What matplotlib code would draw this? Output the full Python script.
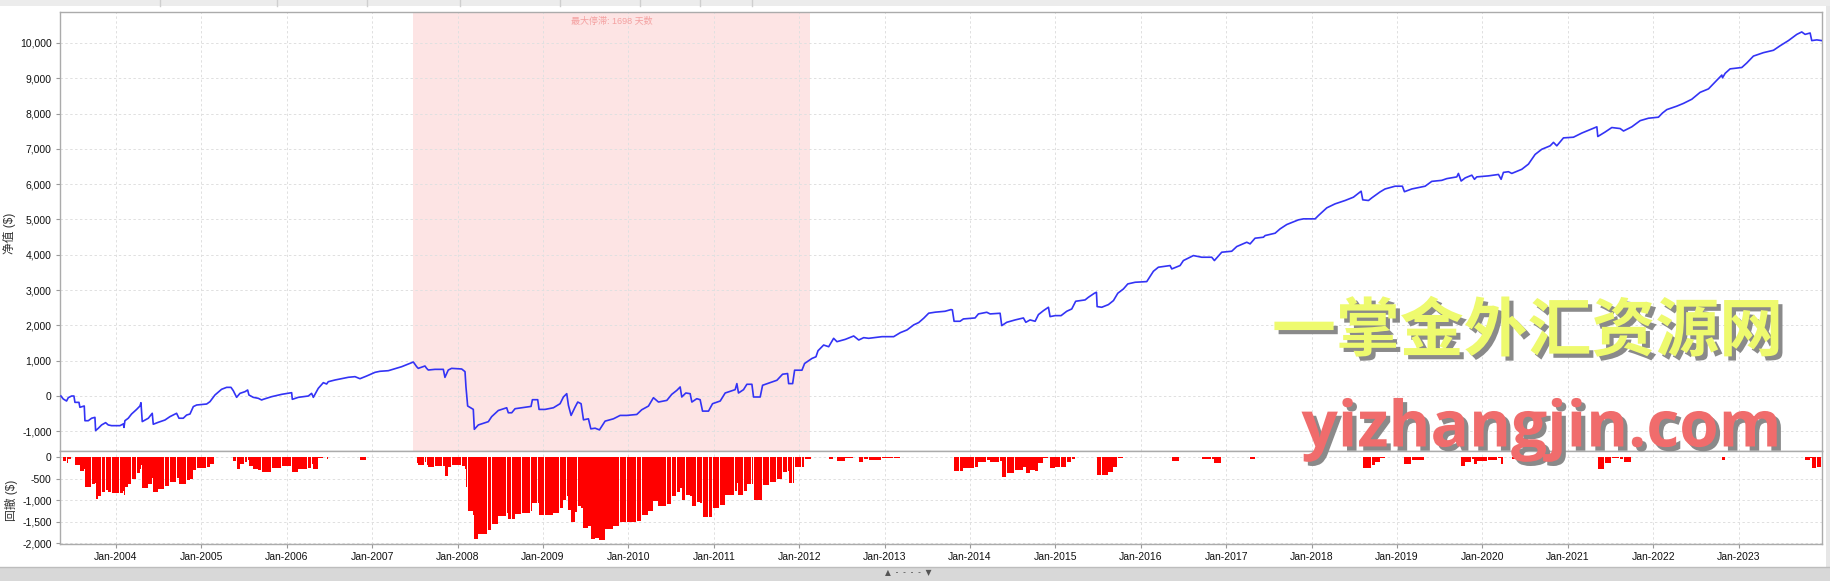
import numpy as np
import matplotlib
matplotlib.use("Agg")
import matplotlib.pyplot as plt
import matplotlib.patheffects as pe
from matplotlib.ticker import FuncFormatter, FixedLocator
from matplotlib.patches import Rectangle

plt.rcParams['font.family'] = ['Liberation Sans', 'Noto Sans CJK SC', 'DejaVu Sans']

# ---------------- data (decimal year, net value $) ----------------
eq_years = [
    2003.356, 2003.383, 2003.422, 2003.442, 2003.481, 2003.508, 2003.520, 2003.567, 2003.578, 2003.629,
    2003.637, 2003.676, 2003.715, 2003.754, 2003.762, 2003.793, 2003.832, 2003.879, 2003.910, 2003.949,
    2004.047, 2004.086, 2004.094, 2004.105, 2004.144, 2004.183, 2004.242, 2004.281, 2004.293, 2004.308,
    2004.379, 2004.425, 2004.437, 2004.496, 2004.574, 2004.632, 2004.710, 2004.738, 2004.788, 2004.827,
    2004.867, 2004.906, 2004.945, 2005.062, 2005.101, 2005.159, 2005.237, 2005.296, 2005.347, 2005.374,
    2005.413, 2005.452, 2005.511, 2005.542, 2005.557, 2005.608, 2005.667, 2005.706, 2005.725, 2005.823,
    2005.940, 2006.057, 2006.065, 2006.135, 2006.252, 2006.291, 2006.311, 2006.369, 2006.428, 2006.467,
    2006.486, 2006.564, 2006.642, 2006.721, 2006.799, 2006.857, 2006.935, 2007.033, 2007.091, 2007.189,
    2007.345, 2007.482, 2007.521, 2007.540, 2007.618, 2007.638, 2007.657, 2007.735, 2007.833, 2007.852,
    2007.891, 2007.930, 2008.048, 2008.087, 2008.098, 2008.118, 2008.184, 2008.196, 2008.243, 2008.360,
    2008.399,
    2008.477, 2008.575, 2008.594, 2008.634, 2008.673, 2008.751, 2008.860, 2008.876, 2008.938, 2008.954,
    2009.024, 2009.122, 2009.200, 2009.239, 2009.278, 2009.298, 2009.329, 2009.376, 2009.407, 2009.446,
    2009.474, 2009.532, 2009.560, 2009.610, 2009.661, 2009.727, 2009.825, 2009.903, 2009.981, 2010.098,
    2010.156, 2010.235, 2010.293, 2010.352, 2010.450, 2010.508, 2010.567, 2010.606, 2010.625, 2010.672,
    2010.723, 2010.743, 2010.801, 2010.840, 2010.868, 2010.938, 2010.985, 2011.075, 2011.133, 2011.250,
    2011.270, 2011.289, 2011.348, 2011.387, 2011.446, 2011.465, 2011.543, 2011.571, 2011.660, 2011.739,
    2011.805, 2011.864, 2011.876, 2011.923, 2011.946, 2012.032, 2012.063, 2012.149, 2012.196, 2012.220,
    2012.286, 2012.345, 2012.403, 2012.442, 2012.540, 2012.638, 2012.697, 2012.755, 2012.813, 2012.970,
    2013.106, 2013.184, 2013.262, 2013.340, 2013.399, 2013.458, 2013.516, 2013.594,
    2013.707, 2013.777, 2013.793, 2013.813, 2013.883, 2013.922, 2014.059, 2014.098, 2014.196, 2014.235,
    2014.352, 2014.371, 2014.430, 2014.528, 2014.625, 2014.653, 2014.703, 2014.762, 2014.801, 2014.860,
    2014.918, 2014.937, 2014.996, 2015.066, 2015.132, 2015.191, 2015.237, 2015.347, 2015.386, 2015.456,
    2015.480, 2015.488, 2015.542, 2015.620, 2015.679, 2015.730, 2015.796, 2015.847, 2015.933, 2016.069,
    2016.147, 2016.205, 2016.342, 2016.362, 2016.459, 2016.498, 2016.615, 2016.713, 2016.830, 2016.861,
    2016.947, 2017.064, 2017.123, 2017.240, 2017.279, 2017.337, 2017.435, 2017.455, 2017.572, 2017.630,
    2017.708, 2017.845, 2017.904, 2018.040, 2018.079, 2018.177, 2018.274, 2018.391, 2018.489, 2018.579,
    2018.598, 2018.665, 2018.704, 2018.743, 2018.800,
    2018.859, 2018.976, 2019.062, 2019.086, 2019.172, 2019.328, 2019.406, 2019.523, 2019.582, 2019.699,
    2019.718, 2019.750, 2019.797, 2019.875, 2019.906, 2019.933, 2020.070, 2020.187, 2020.218, 2020.245,
    2020.304, 2020.343, 2020.460, 2020.538, 2020.616, 2020.694, 2020.792, 2020.831, 2020.870, 2020.948,
    2021.065, 2021.163, 2021.241, 2021.339, 2021.350, 2021.436, 2021.514, 2021.612, 2021.651, 2021.748,
    2021.846, 2021.943, 2022.060, 2022.107, 2022.158, 2022.275, 2022.353, 2022.451, 2022.548, 2022.646,
    2022.724, 2022.802, 2022.810, 2022.841, 2022.899, 2023.036, 2023.094, 2023.172, 2023.289, 2023.407,
    2023.485, 2023.582, 2023.680, 2023.738, 2023.777, 2023.836, 2023.855, 2023.914, 2023.972,
]
eq_values = [
    0, -85, -142, -47, 0, 0, -180, -180, -320, -283,
    -700, -700, -630, -605, -980, -915, -820, -755, -820, -840,
    -840, -790, -890, -700, -630, -510, -380, -283, -190, -725,
    -630, -490, -800, -745, -680, -585, -490, -630, -630, -540,
    -510, -300, -255, -227, -160, 28, 190, 245, 245, 150,
    -38, 75, 123, 170, 28, -38, -66, -113, -94, -19,
    47, 94, -94, -38, 0, 75, -38, 217, 378, 340,
    405, 453, 490, 530, 548, 490, 566, 670, 700, 717,
    830, 963, 830, 783, 850, 783, 736, 755, 755, 528,
    736, 783, 765, 690, 264, -283, -378, -944, -820, -727,
    -585,
    -410, -333, -475, -475, -360, -333, -295, -105, -105, -380,
    -380, -333, -218, -28, 66, -266, -550, -313, -171, -218,
    -675, -646, -930, -912, -960, -712, -646, -550, -550, -523,
    -390, -285, -48, -171, -124, 48, 160, 256, -28, 85,
    66, -171, -76, -105, -428, -428, -218, -142, 85, 180,
    351, 85, 180, 332, 332, -28, -28, 304, 380, 446,
    617, 636, 351, 351, 731, 731, 921, 1064, 1111, 1282,
    1444, 1396, 1634, 1539, 1605, 1700, 1586, 1653, 1634, 1681,
    1681, 1795, 1871, 2014, 2080, 2204, 2346, 2375,
    2400, 2448, 2438, 2117, 2117, 2183, 2211, 2325, 2372, 2325,
    2344, 1994, 2088, 2155, 2211, 2088, 2155, 2117, 2306, 2419,
    2514, 2249, 2277, 2277, 2400, 2466, 2684, 2722, 2797, 2911,
    2939, 2533, 2514, 2589, 2703, 2911, 3033, 3175, 3222, 3241,
    3534, 3648, 3695, 3600, 3695, 3837, 3978, 3931, 3931, 3837,
    4073, 4101, 4234, 4356, 4309, 4470, 4498, 4545, 4612, 4734,
    4857, 4990, 5018, 5018, 5112, 5330, 5443, 5538, 5632, 5802,
    5557, 5538, 5613, 5680, 5780,
    5865, 5943, 5943, 5787, 5865, 5943, 6080, 6109, 6158, 6207,
    6305, 6090, 6178, 6256, 6139, 6207, 6236, 6276, 6139, 6334,
    6354, 6305, 6422, 6569, 6843, 6989, 7087, 7185, 7087, 7312,
    7331, 7449, 7527, 7625, 7351, 7478, 7605, 7576, 7507, 7625,
    7800, 7869, 7898, 8016, 8113, 8211, 8289, 8407, 8602, 8700,
    8895, 9091, 9013, 9140, 9267, 9306, 9433, 9629, 9726, 9794,
    9922, 10068, 10244, 10313, 10244, 10283, 10068, 10088, 10068,
]

year_ticks = list(range(2004, 2024))
year_labels = ["Jan-%d" % y for y in year_ticks]
upper_yticks = list(range(-1000, 10001, 1000))
lower_yticks = [0, -500, -1000, -1500, -2000]

stagnation_start = 2007.48
stagnation_days = 1698
stagnation_text = "最大停滞: 1698 天数"
ylabel_top = "净值 ($)"
ylabel_bottom = "回撤 ($)"
watermark_cn = "一掌金外汇资源网"
watermark_en = "yizhangjin.com"

# ---------------- figure ----------------
W, H = 1831, 581
fig = plt.figure(figsize=(W / 100, H / 100), dpi=100)
fig.patch.set_facecolor('white')

def fx(x):
    return x / W

def fy(y):
    return 1 - y / H

left, right = 60, 1822
top, mid, bottom = 12, 451, 544
ax1 = fig.add_axes([fx(left), fy(mid), fx(right - left), (mid - top) / H])
ax2 = fig.add_axes([fx(left), fy(bottom), fx(right - left), (bottom - mid) / H], sharex=ax1)

eq_x = np.array(eq_years)
eq_y = np.array(eq_values, dtype=float)
dd = eq_y - np.maximum.accumulate(np.maximum(eq_y, 0))

xmin, xmax = 2003.345, 2023.975
grid_kw = dict(color='#e0e0e0', linestyle=(0, (2.5, 2.5)), linewidth=0.7)
spine_color = '#ababab'

# upper panel
stag_end = stagnation_start + stagnation_days / 365.25
ax1.axvspan(stagnation_start, stag_end, color='#fde4e4', zorder=0, lw=0)
ax1.plot(eq_x, eq_y, color='#3333f5', lw=1.2, zorder=3)
ax1.set_xlim(xmin, xmax)
ax1.set_ylim(-1558, 10878)
ax1.yaxis.set_major_locator(FixedLocator(upper_yticks))
ax1.yaxis.set_major_formatter(FuncFormatter(lambda v, p: "{:,.0f}".format(v)))
ax1.xaxis.set_major_locator(FixedLocator(year_ticks))
ax1.tick_params(axis='x', length=0, labelbottom=False)
ax1.text((stagnation_start + stag_end) / 2, 10610, stagnation_text, ha='center', va='center',
         fontsize=6.5, color='#f4a0a0', zorder=4)

# lower panel
gaps = np.diff(eq_x)
widths = np.append(gaps * 0.9, 0.01)
ax2.bar(eq_x, dd, width=widths, align='edge', color='#ff0000', linewidth=0, zorder=3)
ax2.set_ylim(-2016, 139)
ax2.yaxis.set_major_locator(FixedLocator(lower_yticks))
ax2.yaxis.set_major_formatter(FuncFormatter(lambda v, p: "{:,.0f}".format(v)))
ax2.xaxis.set_major_locator(FixedLocator(year_ticks))
ax2.set_xticklabels(year_labels)

for ax in (ax1, ax2):
    ax.grid(True, **grid_kw)
    ax.set_axisbelow(True)
    for s in ax.spines.values():
        s.set_color(spine_color)
        s.set_linewidth(1.0)
    ax.tick_params(axis='y', length=3, width=0.8, color='#999999', labelsize=7.5, pad=3,
                   labelcolor='#111111')
ax2.tick_params(axis='x', length=3, width=0.8, color='#999999', labelsize=7.5, pad=3,
                labelcolor='#111111')

fig.text(fx(9), fy(233), ylabel_top, rotation=90, ha='center', va='center', fontsize=8.5,
         color='#333333')
fig.text(fx(11), fy(500), ylabel_bottom, rotation=90, ha='center', va='center', fontsize=8.5,
         color='#333333')

# window chrome
fig.patches.append(Rectangle((0, fy(6)), 1, 6 / H, transform=fig.transFigure,
                             facecolor='#ececec', edgecolor='none', zorder=-1))
for xb in (160, 277, 367, 460, 560, 640, 700, 752):
    fig.lines.append(plt.Line2D([fx(xb), fx(xb)], [fy(6), 1], transform=fig.transFigure,
                                color='#cfcfcf', lw=1))
fig.patches.append(Rectangle((0, 0), 1, 14 / H, transform=fig.transFigure,
                             facecolor='#d8d8d8', edgecolor='none', zorder=-1))
fig.lines.append(plt.Line2D([0, 1], [14 / H, 14 / H], transform=fig.transFigure,
                            color='#bdbdbd', lw=1))
fig.patches.append(Rectangle((fx(1826), 14 / H), 5 / W, (H - 20) / H, transform=fig.transFigure,
                             facecolor='#e6e6e6', edgecolor='none', zorder=-1))
fig.text(fx(908), fy(573), "▲  -  -  -  -  ▼", ha='center', va='center', fontsize=5.5,
         color='#555555', family='DejaVu Sans')

# watermark (with drop shadow as a path effect)
shadow = [pe.SimplePatchShadow(offset=(3, -3), shadow_rgbFace='#8a8a8a', alpha=1.0), pe.Normal()]
fig.text(fx(1783), fy(332), watermark_cn, ha='right', va='center', fontsize=46,
         fontweight='bold', color='#eefa6e', family=['Noto Sans CJK SC'], zorder=6,
         path_effects=shadow)
fig.text(fx(1781), fy(430), watermark_en, ha='right', va='center', fontsize=46,
         fontweight='bold', color='#f06c6c', family=['Open Sans'], zorder=6,
         path_effects=shadow)

fig.savefig('out.png', dpi=100)
